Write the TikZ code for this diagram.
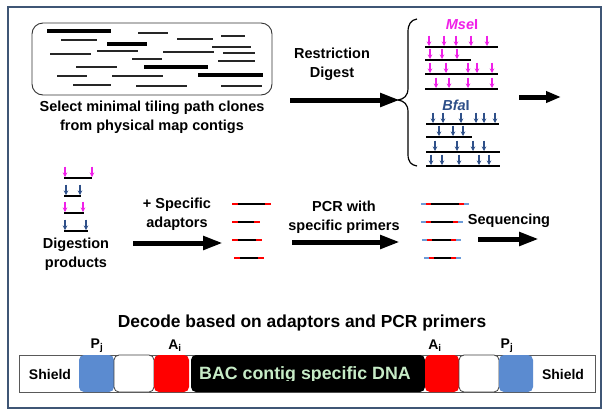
\documentclass[tikz,border=0pt]{standalone}
\usepackage{fontspec}
\setmainfont{Liberation Sans}
\usetikzlibrary{arrows.meta}
\definecolor{framec}{HTML}{3F5675}
\definecolor{msec}{HTML}{F020E8}
\definecolor{bfac}{HTML}{2F5089}
\definecolor{pblue}{HTML}{5B8BD0}
\definecolor{lblue}{HTML}{6C9BD8}
\definecolor{dnatext}{HTML}{C6EBC6}
\newcommand\fsA{\fontsize{14.5}{19}\selectfont\bfseries}
\newcommand\fsB{\fontsize{17.4}{20}\selectfont\bfseries}
\begin{document}
\begin{tikzpicture}[x=1pt,y=-1pt,
  lbl/.style={font=\fsA, align=center, inner sep=0pt},
  thinl/.style={line width=1.1pt, black!85},
  thickl/.style={line width=3.2pt, black},
  dline/.style={line width=2.3pt, black},
  marr/.style={msec, line width=1.1pt, -{Stealth[length=4.5pt,width=4.5pt]}},
  barr/.style={bfac, line width=1.1pt, -{Stealth[length=4.5pt,width=4.5pt]}},
  bigarrow/.style={line width=5pt, -{Triangle[length=20pt,width=13pt]}},
  smallarrow/.style={line width=5pt, -{Triangle[length=15pt,width=11pt]}},
  seg/.style={minimum height=37pt, inner sep=0pt, rounded corners=5pt},
  segw/.style={seg, draw=black!75, line width=0.8pt, fill=white},
  sublbl/.style={font=\fontsize{14}{16}\selectfont\bfseries, inner sep=0pt}]
\useasboundingbox (0,0) rectangle (608,416);
\fill[white] (0,0) rectangle (608,416);
\draw[framec, line width=2pt] (8,7) rectangle (601,408);

% tiling path box
\node[draw=black!80, line width=0.9pt, rounded corners=11pt, minimum width=240pt, minimum height=72pt, inner sep=0pt] (tile) at (152,59) {};
\foreach \a/\b/\y in {138/168/33, 221/245/36, 61/97/40, 177/213/39, 212/251/47, 97/138/51, 163/214/52, 50/91/54, 223/255/53, 132/162/59, 218/255/61, 76/117/67, 57/87/76, 112/163/76, 73/111/85, 136/187/86, 221/262/86}
  \draw[thinl] (\a,\y) -- (\b,\y);
\foreach \a/\b/\y in {47/111/31, 107/147/44, 144/208/67, 198/263/75}
  \draw[thickl] (\a,\y) -- (\b,\y);
\node[lbl] (sel) at (152,117.5) {Select minimal tiling path clones\\from physical map contigs};

% restriction digest
\node[lbl] (restr) at (332,64.5) {Restriction\\Digest};
\coordinate (a1s) at (290,100);
\coordinate (a1e) at (400,100);
\draw[bigarrow] (a1s) -- (a1e);

% brace
\draw[line width=1.2pt] (417,19) .. controls (411,20) and (408,24) .. (408,32) -- (408,88)
  .. controls (408,96) and (404,99) .. (398,100) .. controls (404,101) and (408,104) .. (408,112)
  -- (408,154) .. controls (408,162) and (411,165) .. (417,166);

% MseI
\node[font=\fsA, text=msec, inner sep=0pt] (mse) at (462,25) {{\itshape Mse}I};
\draw[dline] (425,47) -- (498,47);
\foreach \x in {429,444,456,471,487} \draw[marr] (\x,35.5) -- (\x,46);
\draw[dline] (425,60) -- (471,60);
\foreach \x in {430,442,457} \draw[marr] (\x,48.5) -- (\x,59);
\draw[dline] (425,74) -- (498,74);
\foreach \x in {430,446,468,477,492} \draw[marr] (\x,62.5) -- (\x,73);
\draw[dline] (425,89) -- (498,89);
\foreach \x in {436,449,468,492} \draw[marr] (\x,77.5) -- (\x,88);

% BfaI
\node[font=\fsA, text=bfac, inner sep=0pt] (bfa) at (456,105) {{\itshape Bfa}I};
\draw[dline] (426,124) -- (499,124);
\foreach \x in {433,443,461,476,484,495} \draw[barr] (\x,112.5) -- (\x,123);
\draw[dline] (426,137) -- (472,137);
\foreach \x in {439,453,463} \draw[barr] (\x,125.5) -- (\x,136);
\draw[dline] (426,152) -- (500,152);
\foreach \x in {435,457,473,484} \draw[barr] (\x,140.5) -- (\x,151);
\draw[dline] (426,166) -- (500,166);
\foreach \x in {431,442,459,479,489} \draw[barr] (\x,154.5) -- (\x,165);

\coordinate (a2s) at (519,97);
\coordinate (a2e) at (561,97);
\draw[smallarrow] (a2s) -- (a2e);

% digestion products
\draw[dline] (64,178) -- (92,178);
\foreach \x in {65,92} \draw[marr] (\x,166.5) -- (\x,177);
\draw[dline] (64,196) -- (81,196);
\foreach \x in {66,80} \draw[barr] (\x,184.5) -- (\x,195);
\draw[dline] (64,213) -- (84,213);
\foreach \x in {65,83} \draw[marr] (\x,201.5) -- (\x,212);
\draw[dline] (64,231) -- (88,231);
\foreach \x in {65,86} \draw[barr] (\x,219.5) -- (\x,230);
\node[lbl] (dig) at (76,254.5) {Digestion\\products};

% adaptors
\node[lbl] (adap) at (177,214.5) {+ Specific\\adaptors};
\coordinate (a3s) at (133,243);
\coordinate (a3e) at (223,243);
\draw[bigarrow] (a3s) -- (a3e);
\foreach \a/\b/\y in {232/271/204, 232/260/222, 232/262/240, 234/264/258} {
  \draw[red, line width=2.4pt] (\a,\y) -- (\b,\y);
  \draw[black, line width=2.4pt] (\a+6,\y) -- (\b-6,\y);
}

% PCR
\node[lbl] (pcr) at (344,217) {PCR with\\specific primers};
\coordinate (a4s) at (292,242);
\coordinate (a4e) at (400,242);
\draw[bigarrow] (a4s) -- (a4e);
\foreach \a/\b/\y in {421/469/204, 421/463/222, 422/461/240, 424/461/258} {
  \draw[lblue, line width=2.4pt] (\a,\y) -- (\b,\y);
  \draw[red, line width=2.4pt] (\a+5,\y) -- (\b-5,\y);
  \draw[black, line width=2.4pt] (\a+10,\y) -- (\b-10,\y);
}

% sequencing
\node[lbl] (seq) at (509,221) {Sequencing};
\coordinate (a5s) at (478,239);
\coordinate (a5e) at (539,239);
\draw[bigarrow] (a5s) -- (a5e);

% decode
\node[font=\fsB, inner sep=0pt] (dec) at (302,323) {Decode based on adaptors and PCR primers};
\node[draw=black!65, line width=0.8pt, fill=white, minimum width=576pt, minimum height=37pt, inner sep=0pt] (bar) at (307,373.5) {};
\node[seg, fill=pblue, minimum width=35pt] (p1) at (96.5,373.5) {};
\node[segw, minimum width=40pt] (w1) at (134,373.5) {};
\node[seg, fill=red, minimum width=35pt] (r1) at (171.5,373.5) {};
\node[seg, fill=black, minimum width=234pt] (dna) at (308,373.5) {};
\node[seg, fill=red, minimum width=34pt] (r2) at (442,373.5) {};
\node[segw, minimum width=40pt] (w2) at (479,373.5) {};
\node[seg, fill=pblue, minimum width=34pt] (p2) at (516,373.5) {};
\begin{scope}
  \clip (191,355) rectangle (425,380.5);
  \node[font=\fontsize{17.8}{20}\selectfont\bfseries, text=dnatext, inner sep=0pt, anchor=base] (dnat) at (305,379) {BAC contig specific DNA};
\end{scope}
\node[sublbl] (sh1) at (50,374) {Shield};
\node[sublbl] (sh2) at (563,374) {Shield};
\node[sublbl] (pj1) at (97,346) {P\textsubscript{j}};
\node[sublbl] (ai1) at (175,346) {A\textsubscript{i}};
\node[sublbl] (ai2) at (435,346) {A\textsubscript{i}};
\node[sublbl] (pj2) at (507,346) {P\textsubscript{j}};
\end{tikzpicture}
\end{document}
